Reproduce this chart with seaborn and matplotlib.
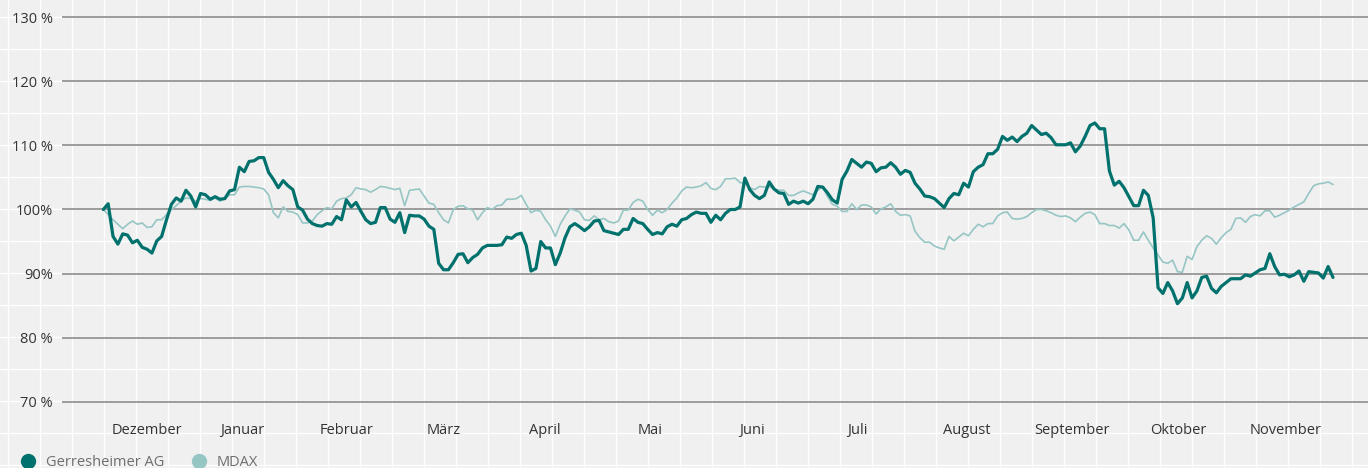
import numpy as np
import pandas as pd
import matplotlib
matplotlib.use("Agg")
import matplotlib.pyplot as plt
from matplotlib.lines import Line2D
import seaborn as sns

# ── Daten (Index, Start = 100 %) ───────────────────────────────────────────────
GERRESHEIMER = [
    100.0, 100.9, 95.8, 94.6, 96.2, 96.0, 94.8, 95.2, 94.1, 93.8,
    93.2, 95.1, 95.8, 98.4, 100.8, 101.8, 101.3, 103.0, 102.1, 100.4,
    102.5, 102.3, 101.6, 102.0, 101.6, 101.7, 102.9, 103.1, 106.6, 105.9,
    107.5, 107.6, 108.1, 108.1, 105.8, 104.7, 103.4,
    104.5, 103.7, 103.1, 100.4, 99.9, 98.5, 97.8, 97.5, 97.4, 97.8,
    97.7, 98.9, 98.4, 101.5, 100.4, 101.1, 99.7, 98.4, 97.8, 98.0,
    100.3, 100.3, 98.5, 98.0, 99.5, 96.4, 99.1, 99.0, 99.0, 98.5,
    97.4, 96.9, 91.6, 90.6, 90.6, 91.7, 93.0, 93.1,
    91.7, 92.5, 93.0, 94.0, 94.4, 94.4, 94.4, 94.5, 95.7, 95.5,
    96.1, 96.3, 94.4, 90.4, 90.8, 95.0, 94.0, 94.0, 91.4, 93.2,
    95.6, 97.3, 97.8, 97.3, 96.7, 97.3, 98.2, 98.3, 96.7, 96.5,
    96.3, 96.1, 96.9, 96.9, 98.6, 98.0, 97.8,
    96.9, 96.1, 96.4, 96.2, 97.3, 97.7, 97.4, 98.4, 98.6, 99.2,
    99.6, 99.4, 99.4, 98.0, 99.1, 98.4, 99.4, 100.0, 100.0, 100.4,
    104.9, 103.1, 102.2, 101.7, 102.2, 104.3, 103.2, 102.6, 102.5, 100.8,
    101.3, 101.0, 101.3, 100.9, 101.6, 103.6, 103.5,
    102.6, 101.5, 101.0, 104.7, 106.0, 107.8, 107.2, 106.6, 107.4, 107.2,
    105.9, 106.5, 106.6, 107.3, 106.6, 105.5, 106.1, 105.8, 104.1, 103.2,
    102.1, 102.0, 101.7, 101.0, 100.3, 101.7, 102.5, 102.3, 104.1, 103.5,
    105.9, 106.6, 107.0, 108.7, 108.7, 109.4, 111.4,
    110.8, 111.3, 110.6, 111.4, 111.9, 113.1, 112.4, 111.7, 111.9, 111.2,
    110.1, 110.1, 110.1, 110.4, 109.0, 109.9, 111.4, 113.1, 113.5, 112.6,
    112.6, 106.0, 103.8, 104.4, 103.4, 102.0, 100.6, 100.6, 103.0, 102.2,
    98.7, 87.8, 86.9, 88.6, 87.3, 85.3,
    86.2, 88.6, 86.2, 87.3, 89.4, 89.6, 87.7, 87.0, 88.0, 88.6,
    89.2, 89.2, 89.2, 89.8, 89.6, 90.1, 90.6, 90.8, 93.1, 91.1,
    89.8, 89.9, 89.5, 89.8, 90.4, 88.8, 90.3, 90.2, 90.1, 89.3,
    91.1, 89.4,
]

MDAX = [
    100.0, 99.2, 98.4, 97.7, 97.0, 97.7, 98.2, 97.7, 97.9, 97.2,
    97.3, 98.4, 98.4, 99.2, 100.0, 100.6, 101.3, 101.8, 101.7, 101.3,
    101.7, 101.6, 101.4, 101.8, 101.3, 101.7, 102.3, 102.3, 103.5, 103.6,
    103.6, 103.5, 103.4, 103.2, 102.3, 99.5, 98.7,
    100.4, 99.7, 99.6, 99.2, 97.9, 97.9, 98.2, 99.2, 99.8, 100.3,
    100.1, 101.3, 101.7, 101.8, 102.3, 103.4, 103.2, 103.1, 102.7, 103.1,
    103.6, 103.5, 103.3, 103.1, 103.3, 100.6, 103.0, 103.1, 103.2, 102.1,
    101.0, 100.8, 99.5, 98.4, 97.9, 100.0, 100.5, 100.6,
    100.1, 99.9, 98.4, 99.5, 100.3, 100.0, 100.6, 100.7, 101.6, 101.6,
    101.7, 102.2, 100.8, 99.5, 99.9, 99.7, 98.4, 97.4, 95.8, 97.7,
    99.0, 100.1, 99.9, 99.6, 98.4, 98.3, 99.0, 98.4, 98.6, 98.1,
    97.9, 98.2, 99.9, 99.9, 101.1, 101.6, 101.3,
    100.0, 99.1, 99.9, 99.5, 100.0, 101.0, 101.8, 102.9, 103.5, 103.4,
    103.5, 103.7, 104.2, 103.3, 103.1, 103.6, 104.8, 104.8, 104.9, 104.2,
    104.1, 103.4, 103.1, 103.6, 103.5, 103.6, 103.2, 103.0, 103.0, 102.2,
    102.2, 102.6, 102.9, 102.6, 102.3, 103.0, 103.6,
    102.0, 100.8, 100.5, 99.7, 99.7, 100.9, 100.0, 100.7, 100.7, 100.4,
    99.3, 100.1, 100.4, 100.9, 99.7, 99.1, 99.2, 99.0, 96.6, 95.6,
    94.9, 94.9, 94.3, 94.0, 93.8, 95.8, 95.1, 95.7, 96.3, 95.9,
    96.9, 97.7, 97.3, 97.8, 97.8, 99.0, 99.5,
    99.6, 98.6, 98.5, 98.6, 98.9, 99.5, 100.0, 100.0, 99.8, 99.5,
    99.1, 98.9, 99.0, 98.7, 98.1, 98.8, 99.4, 99.6, 99.2, 97.8,
    97.8, 97.5, 97.5, 97.1, 97.8, 96.8, 95.2, 95.2, 96.5, 95.2,
    94.0, 92.9, 91.8, 91.6, 92.1, 90.3,
    90.2, 92.7, 92.2, 94.2, 95.2, 95.9, 95.5, 94.6, 95.6, 96.4,
    96.9, 98.6, 98.7, 98.0, 98.9, 99.2, 99.0, 99.8, 99.8, 98.8,
    99.1, 99.5, 99.9, 100.4, 100.8, 101.2, 102.5, 103.7, 104.0, 104.1,
    104.3, 103.9,
]

MONTHS = ["Dezember", "Januar", "Februar", "März", "April", "Mai", "Juni",
          "Juli", "August", "September", "Oktober", "November"]
MONTH_POS = [9.0, 28.7, 50.1, 70.1, 90.9, 112.5, 133.5, 155.1, 177.7, 199.3, 221.1, 243.3]

Y_TICKS = [70, 80, 90, 100, 110, 120, 130]
Y_LABELS = ["70 %", "80 %", "90%", "100%", "110 %", "120 %", "130 %"]

DARK  = "#00716c"
LIGHT = "#96c6c4"
BG    = "#f0f0f0"
W, H  = 1368, 468

sns.set_style("white")
plt.rcParams["font.family"] = ["Open Sans", "DejaVu Sans"]

n = min(len(GERRESHEIMER), len(MDAX))
df = pd.DataFrame({"Tag": np.arange(n),
                   "Gerresheimer AG": GERRESHEIMER[:n],
                   "MDAX": MDAX[:n]}).melt("Tag", var_name="Serie", value_name="Wert")

fig = plt.figure(figsize=(W / 100, H / 100), dpi=100, facecolor=BG)

# background pattern (white squares, 32 px)
bg = fig.add_axes([0, 0, 1, 1], zorder=0)
bg.set_xlim(0, W); bg.set_ylim(H, 0)
bg.set_facecolor(BG)
bg.axis("off")
for gx in np.arange(8.3, W, 32):
    bg.axvline(gx, color="white", lw=1.0)
for gy in np.arange(17.3, H, 32):
    bg.axhline(gy, color="white", lw=1.0)

# main axes: y 68..132 -> px 414.6..4.4, x from px 62 to right edge
y_top, y_bot = 4.4, 414.6
ax = fig.add_axes([62 / W, 1 - y_bot / H, 1 - 62 / W, (y_bot - y_top) / H], zorder=1)
ax.patch.set_alpha(0)

sns.lineplot(data=df, x="Tag", y="Wert", hue="Serie", size="Serie",
             hue_order=["MDAX", "Gerresheimer AG"],
             palette={"Gerresheimer AG": DARK, "MDAX": LIGHT},
             sizes={"Gerresheimer AG": 2.3, "MDAX": 1.2},
             legend=False, ax=ax)

ax.set_xlim(-8.5, 260.2)
ax.set_ylim(68, 132)
ax.set_yticks(Y_TICKS, Y_LABELS)
ax.set_xticks(MONTH_POS, MONTHS)
ax.yaxis.grid(True, color="#8c8c8c", lw=1.2)
ax.xaxis.grid(False)
ax.set_axisbelow(True)
ax.tick_params(axis="y", length=0, pad=6.5, labelsize=10.5, labelcolor="#333333")
ax.tick_params(axis="x", length=0, pad=6, labelsize=10.5, labelcolor="#333333")
ax.set_xlabel(""); ax.set_ylabel("")
for s in ax.spines.values():
    s.set_visible(False)

handles = [Line2D([], [], ls="", marker="o", markersize=10, color=DARK),
           Line2D([], [], ls="", marker="o", markersize=10, color=LIGHT)]
fig.legend(handles, ["Gerresheimer AG", "MDAX"], loc="center left",
           bbox_to_anchor=(21 / W, 1 - 463 / H), ncol=2, frameon=False,
           handlelength=1.0, handletextpad=0.7, columnspacing=1.9,
           borderpad=0, borderaxespad=0, fontsize=10.5, labelcolor="#6e6e6e")

fig.savefig("out.png", dpi=100, facecolor=BG)
